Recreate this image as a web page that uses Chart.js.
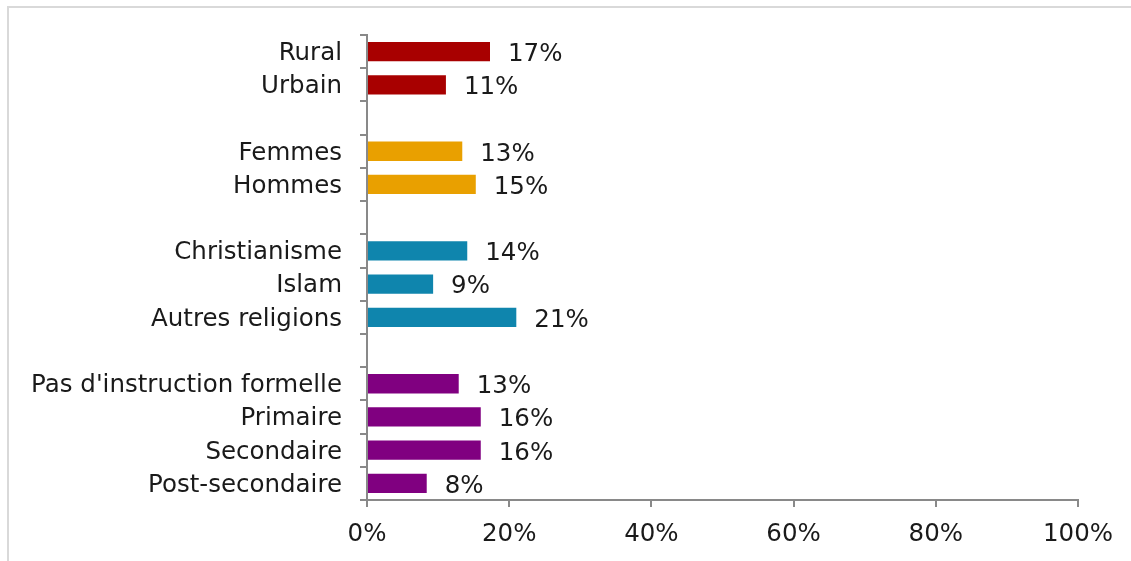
<!DOCTYPE html>
<html>
<head>
<meta charset="utf-8">
<script src="https://cdn.jsdelivr.net/npm/chart.js@4.4.0/dist/chart.umd.min.js"></script>
<style>
  html, body { margin: 0; padding: 0; background: #fff; }
  #wrap { position: relative; width: 1131px; height: 561px; overflow: hidden; }
  #frame { position: absolute; left: 7px; top: 6px; width: 1140px; height: 580px;
           border: 2px solid #d9d9d9; box-sizing: border-box; }
  canvas { position: absolute; left: 0; top: 0; }
</style>
</head>
<body>
<div id="wrap">
  <div id="frame"></div>
  <canvas id="chart" width="1131" height="561"></canvas>
</div>
<script>
// categories (empty strings are the gaps between groups)
const categories = [
  "Rural", "Urbain", "",
  "Femmes", "Hommes", "",
  "Christianisme", "Islam", "Autres religions", "",
  "Pas d'instruction formelle", "Primaire", "Secondaire", "Post-secondaire"
];
const values = [17.3, 11.1, null, 13.4, 15.3, null, 14.1, 9.3, 21.0, null, 12.9, 16.0, 16.0, 8.4];
const valueLabels = ["17%", "11%", "", "13%", "15%", "", "14%", "9%", "21%", "", "13%", "16%", "16%", "8%"];
const barColors = [
  "#A80000", "#A80000", "#fff",
  "#E9A000", "#E9A000", "#fff",
  "#0F85AD", "#0F85AD", "#0F85AD", "#fff",
  "#800080", "#800080", "#800080", "#800080"
];
const xTicks = [0, 20, 40, 60, 80, 100];

const FONT = "'DejaVu Sans', sans-serif";
const FSIZE = 24.5;

const valueLabelPlugin = {
  id: "valueLabels",
  afterDatasetsDraw(chart) {
    const ctx = chart.ctx;
    const meta = chart.getDatasetMeta(0);
    ctx.save();
    ctx.font = FSIZE + "px " + FONT;
    ctx.fillStyle = "#1a1a1a";
    ctx.textAlign = "left";
    ctx.textBaseline = "middle";
    meta.data.forEach((bar, i) => {
      if (!valueLabels[i]) return;
      ctx.fillText(valueLabels[i], bar.x + 18, bar.y + 3);
    });
    ctx.restore();
  }
};

const ctx = document.getElementById("chart").getContext("2d");
new Chart(ctx, {
  type: "bar",
  data: {
    labels: categories,
    datasets: [{
      data: values,
      backgroundColor: barColors,
      categoryPercentage: 1,
      barPercentage: 0.58
    }]
  },
  options: {
    indexAxis: "y",
    responsive: false,
    animation: false,
    layout: { padding: { top: 35, right: 53, bottom: 0, left: 0 } },
    plugins: { legend: { display: false }, tooltip: { enabled: false } },
    scales: {
      x: {
        min: 0,
        max: 100,
        afterBuildTicks(scale) { scale.ticks = xTicks.map(v => ({ value: v })); },
        afterFit(scale) { scale.height = 61; },
        grid: { drawOnChartArea: false, tickLength: 7, color: "#898989", lineWidth: 2 },
        border: { color: "#898989", width: 2 },
        ticks: {
          padding: 13,
          color: "#1a1a1a",
          font: { family: FONT, size: FSIZE },
          callback: v => v + "%"
        }
      },
      y: {
        offset: true,
        afterFit(scale) { scale.width = 367; },
        grid: { drawOnChartArea: false, offset: true, tickLength: 7, color: "#898989", lineWidth: 2 },
        border: { color: "#898989", width: 2 },
        ticks: {
          padding: 18,
          labelOffset: 2,
          color: "#1a1a1a",
          font: { family: FONT, size: FSIZE },
          autoSkip: false
        }
      }
    }
  },
  plugins: [valueLabelPlugin]
});
</script>
</body>
</html>
